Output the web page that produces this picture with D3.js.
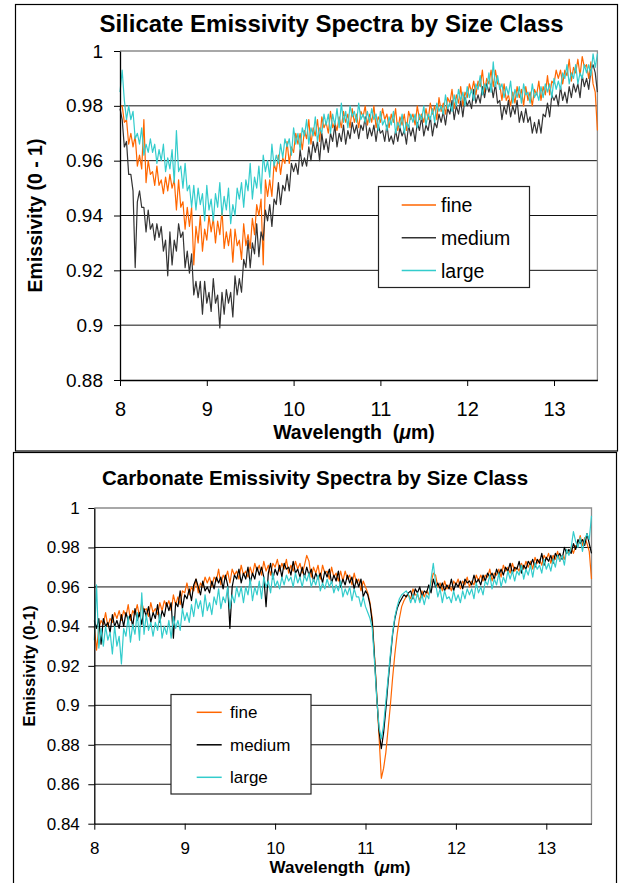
<!DOCTYPE html>
<html>
<head>
<meta charset="utf-8">
<script src="https://cdn.jsdelivr.net/npm/d3@7"></script>
<style>
body { margin: 0; background: #fff; }
svg text { font-family: "Liberation Sans", Arial, sans-serif; fill: #000; }
</style>
</head>
<body>
<svg id="chart" width="623" height="883"></svg>
<script>
"use strict";

// ---- data ----
var sizeClasses = ["fine", "medium", "large"];
var xTicks = [8, 9, 10, 11, 12, 13];
var silicateYTicks = [0.88, 0.9, 0.92, 0.94, 0.96, 0.98, 1];
var carbonateYTicks = [0.84, 0.86, 0.88, 0.9, 0.92, 0.94, 0.96, 0.98, 1];

// both spectra sampled every 0.025 um
var silicateWavelengths = [
	8, 8.025, 8.05, 8.075, 8.1, 8.125, 8.15, 8.175, 8.2, 8.225, 8.25, 8.275, 8.3, 8.325, 8.35, 8.375, 8.4, 8.425, 8.45, 8.475,
	8.5, 8.525, 8.55, 8.575, 8.6, 8.625, 8.65, 8.675, 8.7, 8.725, 8.75, 8.775, 8.8, 8.825, 8.85, 8.875, 8.9, 8.925, 8.95, 8.975,
	9, 9.025, 9.05, 9.075, 9.1, 9.125, 9.15, 9.175, 9.2, 9.225, 9.25, 9.275, 9.3, 9.325, 9.35, 9.375, 9.4, 9.425, 9.45, 9.475,
	9.5, 9.525, 9.55, 9.575, 9.6, 9.625, 9.65, 9.675, 9.7, 9.725, 9.75, 9.775, 9.8, 9.825, 9.85, 9.875, 9.9, 9.925, 9.95, 9.975,
	10, 10.025, 10.05, 10.075, 10.1, 10.125, 10.15, 10.175, 10.2, 10.225, 10.25, 10.275, 10.3, 10.325, 10.35, 10.375, 10.4, 10.425, 10.45, 10.475,
	10.5, 10.525, 10.55, 10.575, 10.6, 10.625, 10.65, 10.675, 10.7, 10.725, 10.75, 10.775, 10.8, 10.825, 10.85, 10.875, 10.9, 10.925, 10.95, 10.975,
	11, 11.025, 11.05, 11.075, 11.1, 11.125, 11.15, 11.175, 11.2, 11.225, 11.25, 11.275, 11.3, 11.325, 11.35, 11.375, 11.4, 11.425, 11.45, 11.475,
	11.5, 11.525, 11.55, 11.575, 11.6, 11.625, 11.65, 11.675, 11.7, 11.725, 11.75, 11.775, 11.8, 11.825, 11.85, 11.875, 11.9, 11.925, 11.95, 11.975,
	12, 12.025, 12.05, 12.075, 12.1, 12.125, 12.15, 12.175, 12.2, 12.225, 12.25, 12.275, 12.3, 12.325, 12.35, 12.375, 12.4, 12.425, 12.45, 12.475,
	12.5, 12.525, 12.55, 12.575, 12.6, 12.625, 12.65, 12.675, 12.7, 12.725, 12.75, 12.775, 12.8, 12.825, 12.85, 12.875, 12.9, 12.925, 12.95, 12.975,
	13, 13.025, 13.05, 13.075, 13.1, 13.125, 13.15, 13.175, 13.2, 13.225, 13.25, 13.275, 13.3, 13.325, 13.35, 13.375, 13.4, 13.425, 13.45, 13.475,
	13.5
];
var carbonateWavelengths = silicateWavelengths;

var silicateFine = [
	0.980, 0.980, 0.974, 0.975, 0.966, 0.970, 0.965, 0.969, 0.958, 0.962, 0.957, 0.975, 0.952, 0.960, 0.955, 0.956, 0.951, 0.958, 0.951, 0.953,
	0.948, 0.954, 0.949, 0.955, 0.950, 0.953, 0.942, 0.953, 0.943, 0.945, 0.935, 0.943, 0.936, 0.943, 0.922, 0.936, 0.930, 0.940, 0.927, 0.935,
	0.931, 0.940, 0.934, 0.939, 0.930, 0.938, 0.933, 0.942, 0.928, 0.934, 0.929, 0.935, 0.923, 0.935, 0.929, 0.931, 0.924, 0.937, 0.929, 0.933,
	0.928, 0.939, 0.933, 0.944, 0.940, 0.946, 0.922, 0.953, 0.947, 0.953, 0.947, 0.959, 0.956, 0.962, 0.955, 0.961, 0.959, 0.967, 0.959, 0.965,
	0.963, 0.970, 0.966, 0.970, 0.964, 0.971, 0.968, 0.975, 0.966, 0.972, 0.969, 0.975, 0.967, 0.976, 0.972, 0.974, 0.970, 0.978, 0.972, 0.974,
	0.971, 0.976, 0.972, 0.978, 0.974, 0.977, 0.972, 0.979, 0.974, 0.977, 0.972, 0.978, 0.976, 0.980, 0.973, 0.977, 0.974, 0.980, 0.972, 0.976,
	0.974, 0.979, 0.975, 0.977, 0.972, 0.977, 0.974, 0.979, 0.971, 0.976, 0.973, 0.977, 0.971, 0.978, 0.975, 0.977, 0.973, 0.980, 0.975, 0.977,
	0.974, 0.979, 0.975, 0.981, 0.977, 0.980, 0.975, 0.983, 0.978, 0.981, 0.977, 0.983, 0.981, 0.986, 0.979, 0.984, 0.981, 0.987, 0.980, 0.985,
	0.983, 0.988, 0.985, 0.989, 0.984, 0.989, 0.987, 0.993, 0.985, 0.990, 0.988, 0.993, 0.987, 0.993, 0.988, 0.988, 0.982, 0.988, 0.982, 0.984,
	0.980, 0.985, 0.981, 0.987, 0.983, 0.986, 0.980, 0.987, 0.982, 0.985, 0.980, 0.986, 0.984, 0.989, 0.982, 0.987, 0.984, 0.991, 0.984, 0.989,
	0.988, 0.993, 0.990, 0.993, 0.988, 0.993, 0.991, 0.997, 0.989, 0.994, 0.992, 0.997, 0.991, 0.998, 0.994, 0.995, 0.990, 0.996, 0.988, 0.985,
	0.971
];
var silicateMedium = [
	0.979, 0.975, 0.965, 0.967, 0.955, 0.955, 0.949, 0.921, 0.945, 0.949, 0.943, 0.943, 0.934, 0.942, 0.935, 0.937, 0.931, 0.937, 0.932, 0.936,
	0.927, 0.931, 0.918, 0.934, 0.922, 0.931, 0.927, 0.937, 0.932, 0.934, 0.921, 0.927, 0.919, 0.926, 0.911, 0.916, 0.910, 0.916, 0.904, 0.916,
	0.908, 0.912, 0.905, 0.917, 0.908, 0.911, 0.899, 0.912, 0.904, 0.913, 0.908, 0.912, 0.903, 0.918, 0.911, 0.917, 0.912, 0.924, 0.921, 0.931,
	0.921, 0.930, 0.926, 0.937, 0.925, 0.934, 0.931, 0.942, 0.938, 0.944, 0.936, 0.946, 0.944, 0.952, 0.944, 0.951, 0.949, 0.955, 0.949, 0.959,
	0.956, 0.959, 0.955, 0.964, 0.958, 0.961, 0.958, 0.965, 0.960, 0.967, 0.963, 0.967, 0.960, 0.970, 0.964, 0.968, 0.963, 0.970, 0.967, 0.973,
	0.965, 0.970, 0.967, 0.973, 0.966, 0.971, 0.968, 0.974, 0.970, 0.973, 0.968, 0.973, 0.971, 0.976, 0.968, 0.972, 0.969, 0.973, 0.967, 0.973,
	0.970, 0.971, 0.967, 0.973, 0.967, 0.969, 0.966, 0.971, 0.967, 0.972, 0.969, 0.971, 0.966, 0.973, 0.969, 0.972, 0.967, 0.974, 0.971, 0.976,
	0.969, 0.973, 0.971, 0.976, 0.969, 0.974, 0.972, 0.977, 0.974, 0.978, 0.973, 0.979, 0.977, 0.982, 0.975, 0.980, 0.977, 0.982, 0.976, 0.983,
	0.980, 0.982, 0.979, 0.986, 0.981, 0.984, 0.981, 0.987, 0.983, 0.988, 0.985, 0.988, 0.983, 0.988, 0.981, 0.982, 0.975, 0.980, 0.977, 0.982,
	0.976, 0.980, 0.977, 0.982, 0.974, 0.978, 0.974, 0.979, 0.974, 0.976, 0.970, 0.974, 0.970, 0.975, 0.970, 0.977, 0.976, 0.981, 0.976, 0.984,
	0.982, 0.984, 0.980, 0.987, 0.982, 0.985, 0.981, 0.987, 0.983, 0.988, 0.985, 0.988, 0.983, 0.991, 0.987, 0.990, 0.986, 0.993, 0.995, 0.992,
	0.985
];
var silicateLarge = [
	0.985, 0.993, 0.982, 0.975, 0.980, 0.975, 0.978, 0.968, 0.970, 0.966, 0.972, 0.962, 0.966, 0.963, 0.968, 0.963, 0.966, 0.959, 0.964, 0.960,
	0.966, 0.956, 0.961, 0.957, 0.964, 0.952, 0.971, 0.956, 0.958, 0.950, 0.959, 0.949, 0.951, 0.943, 0.951, 0.942, 0.950, 0.944, 0.948, 0.938,
	0.951, 0.942, 0.946, 0.938, 0.948, 0.943, 0.952, 0.940, 0.947, 0.942, 0.950, 0.937, 0.944, 0.940, 0.950, 0.946, 0.952, 0.943, 0.953, 0.949,
	0.959, 0.946, 0.954, 0.950, 0.958, 0.948, 0.962, 0.956, 0.960, 0.954, 0.966, 0.958, 0.962, 0.959, 0.966, 0.961, 0.968, 0.965, 0.968, 0.962,
	0.972, 0.966, 0.970, 0.964, 0.972, 0.969, 0.975, 0.966, 0.972, 0.969, 0.976, 0.967, 0.972, 0.970, 0.977, 0.973, 0.977, 0.970, 0.977, 0.973,
	0.979, 0.972, 0.981, 0.974, 0.978, 0.972, 0.980, 0.976, 0.978, 0.974, 0.981, 0.975, 0.977, 0.974, 0.978, 0.974, 0.979, 0.975, 0.977, 0.971,
	0.978, 0.973, 0.975, 0.971, 0.976, 0.973, 0.978, 0.970, 0.974, 0.972, 0.977, 0.970, 0.974, 0.972, 0.977, 0.974, 0.977, 0.972, 0.977, 0.975,
	0.980, 0.973, 0.977, 0.975, 0.979, 0.974, 0.981, 0.978, 0.980, 0.977, 0.984, 0.979, 0.981, 0.978, 0.984, 0.980, 0.986, 0.982, 0.985, 0.980,
	0.987, 0.983, 0.986, 0.982, 0.988, 0.986, 0.991, 0.984, 0.988, 0.986, 0.992, 0.985, 0.996, 0.987, 0.991, 0.986, 0.988, 0.983, 0.987, 0.984,
	0.989, 0.981, 0.986, 0.983, 0.987, 0.981, 0.988, 0.984, 0.985, 0.981, 0.988, 0.983, 0.985, 0.982, 0.987, 0.983, 0.988, 0.985, 0.988, 0.983,
	0.990, 0.986, 0.989, 0.986, 0.992, 0.990, 0.995, 0.988, 0.992, 0.990, 0.995, 0.988, 0.992, 0.990, 0.995, 0.992, 0.995, 0.991, 0.999, 0.994,
	0.999
];

var carbonateFine = [
	0.940, 0.928, 0.939, 0.943, 0.941, 0.947, 0.940, 0.944, 0.942, 0.947, 0.944, 0.948, 0.943, 0.948, 0.945, 0.951, 0.943, 0.948, 0.946, 0.951,
	0.945, 0.952, 0.948, 0.949, 0.945, 0.952, 0.947, 0.949, 0.946, 0.952, 0.948, 0.953, 0.950, 0.953, 0.948, 0.956, 0.951, 0.955, 0.951, 0.958,
	0.957, 0.962, 0.956, 0.960, 0.958, 0.964, 0.957, 0.962, 0.960, 0.965, 0.962, 0.965, 0.960, 0.965, 0.963, 0.969, 0.961, 0.966, 0.964, 0.968,
	0.962, 0.969, 0.966, 0.968, 0.964, 0.971, 0.966, 0.968, 0.965, 0.970, 0.966, 0.972, 0.968, 0.971, 0.966, 0.973, 0.968, 0.971, 0.966, 0.972,
	0.970, 0.974, 0.968, 0.972, 0.969, 0.974, 0.967, 0.971, 0.968, 0.973, 0.969, 0.972, 0.967, 0.971, 0.976, 0.973, 0.965, 0.970, 0.967, 0.971,
	0.964, 0.971, 0.967, 0.968, 0.964, 0.970, 0.965, 0.967, 0.963, 0.968, 0.963, 0.968, 0.964, 0.966, 0.961, 0.967, 0.962, 0.964, 0.958, 0.963,
	0.960, 0.957, 0.952, 0.944, 0.925, 0.905, 0.884, 0.863, 0.868, 0.876, 0.888, 0.900, 0.914, 0.926, 0.936, 0.944, 0.950, 0.953, 0.955, 0.956,
	0.954, 0.959, 0.956, 0.956, 0.953, 0.958, 0.955, 0.958, 0.956, 0.962, 0.967, 0.966, 0.960, 0.962, 0.958, 0.963, 0.959, 0.961, 0.958, 0.963,
	0.961, 0.964, 0.959, 0.963, 0.961, 0.965, 0.960, 0.963, 0.961, 0.966, 0.963, 0.966, 0.963, 0.966, 0.965, 0.969, 0.963, 0.967, 0.966, 0.969,
	0.965, 0.971, 0.968, 0.970, 0.967, 0.972, 0.968, 0.970, 0.968, 0.972, 0.969, 0.973, 0.970, 0.973, 0.969, 0.975, 0.972, 0.974, 0.971, 0.976,
	0.974, 0.977, 0.972, 0.976, 0.974, 0.978, 0.973, 0.976, 0.974, 0.979, 0.977, 0.980, 0.977, 0.981, 0.981, 0.986, 0.981, 0.985, 0.982, 0.978,
	0.964
];
var carbonateMedium = [
	0.943, 0.939, 0.944, 0.931, 0.944, 0.940, 0.942, 0.937, 0.946, 0.940, 0.943, 0.939, 0.946, 0.940, 0.947, 0.943, 0.946, 0.940, 0.949, 0.943,
	0.947, 0.941, 0.949, 0.945, 0.950, 0.942, 0.947, 0.944, 0.951, 0.942, 0.948, 0.945, 0.952, 0.948, 0.952, 0.934, 0.952, 0.950, 0.958, 0.949,
	0.956, 0.954, 0.959, 0.953, 0.961, 0.964, 0.960, 0.956, 0.963, 0.958, 0.960, 0.957, 0.963, 0.959, 0.965, 0.962, 0.965, 0.959, 0.966, 0.961,
	0.939, 0.960, 0.966, 0.964, 0.969, 0.962, 0.967, 0.964, 0.970, 0.962, 0.967, 0.964, 0.970, 0.966, 0.970, 0.965, 0.950, 0.967, 0.972, 0.964,
	0.969, 0.966, 0.971, 0.965, 0.972, 0.969, 0.970, 0.966, 0.973, 0.967, 0.969, 0.965, 0.970, 0.965, 0.970, 0.966, 0.969, 0.963, 0.967, 0.964,
	0.967, 0.962, 0.968, 0.965, 0.969, 0.962, 0.966, 0.963, 0.968, 0.960, 0.964, 0.961, 0.966, 0.962, 0.965, 0.959, 0.964, 0.960, 0.964, 0.955,
	0.958, 0.956, 0.951, 0.942, 0.924, 0.904, 0.887, 0.878, 0.886, 0.898, 0.912, 0.924, 0.936, 0.944, 0.949, 0.952, 0.954, 0.956, 0.955, 0.957,
	0.958, 0.954, 0.959, 0.957, 0.960, 0.955, 0.958, 0.957, 0.961, 0.957, 0.964, 0.960, 0.962, 0.959, 0.962, 0.958, 0.961, 0.959, 0.964, 0.958,
	0.962, 0.960, 0.963, 0.959, 0.964, 0.962, 0.963, 0.961, 0.966, 0.962, 0.964, 0.961, 0.966, 0.963, 0.967, 0.965, 0.967, 0.964, 0.969, 0.966,
	0.969, 0.966, 0.970, 0.968, 0.972, 0.967, 0.970, 0.969, 0.973, 0.967, 0.971, 0.969, 0.973, 0.971, 0.974, 0.970, 0.974, 0.972, 0.977, 0.971,
	0.975, 0.973, 0.976, 0.972, 0.977, 0.975, 0.977, 0.974, 0.980, 0.977, 0.979, 0.977, 0.982, 0.979, 0.984, 0.982, 0.984, 0.981, 0.987, 0.982,
	0.977
];
var carbonateLarge = [
	0.933, 0.961, 0.929, 0.939, 0.930, 0.940, 0.933, 0.937, 0.926, 0.940, 0.930, 0.935, 0.921, 0.939, 0.935, 0.945, 0.932, 0.941, 0.936, 0.947,
	0.933, 0.957, 0.936, 0.946, 0.938, 0.942, 0.935, 0.942, 0.938, 0.946, 0.934, 0.940, 0.936, 0.943, 0.934, 0.945, 0.939, 0.943, 0.938, 0.949,
	0.943, 0.947, 0.942, 0.951, 0.945, 0.954, 0.949, 0.953, 0.945, 0.956, 0.948, 0.952, 0.946, 0.955, 0.951, 0.959, 0.949, 0.955, 0.952, 0.960,
	0.949, 0.956, 0.952, 0.960, 0.955, 0.960, 0.952, 0.960, 0.956, 0.964, 0.953, 0.960, 0.956, 0.963, 0.954, 0.965, 0.960, 0.963, 0.957, 0.967,
	0.960, 0.963, 0.959, 0.965, 0.961, 0.966, 0.963, 0.965, 0.960, 0.967, 0.962, 0.965, 0.960, 0.966, 0.963, 0.967, 0.960, 0.964, 0.961, 0.966,
	0.958, 0.962, 0.959, 0.964, 0.960, 0.963, 0.957, 0.961, 0.958, 0.963, 0.955, 0.959, 0.956, 0.960, 0.953, 0.959, 0.955, 0.955, 0.950, 0.955,
	0.950, 0.947, 0.944, 0.939, 0.922, 0.903, 0.889, 0.883, 0.890, 0.902, 0.914, 0.926, 0.937, 0.945, 0.950, 0.954, 0.956, 0.957, 0.958, 0.956,
	0.952, 0.956, 0.952, 0.957, 0.952, 0.956, 0.951, 0.956, 0.954, 0.964, 0.972, 0.962, 0.955, 0.959, 0.952, 0.958, 0.954, 0.955, 0.952, 0.958,
	0.953, 0.956, 0.952, 0.958, 0.954, 0.959, 0.956, 0.959, 0.954, 0.962, 0.957, 0.960, 0.956, 0.963, 0.961, 0.966, 0.959, 0.964, 0.961, 0.967,
	0.960, 0.965, 0.962, 0.968, 0.964, 0.968, 0.963, 0.968, 0.966, 0.971, 0.964, 0.969, 0.966, 0.971, 0.965, 0.972, 0.969, 0.971, 0.967, 0.974,
	0.969, 0.972, 0.968, 0.974, 0.970, 0.976, 0.973, 0.976, 0.971, 0.979, 0.976, 0.980, 0.988, 0.983, 0.980, 0.985, 0.978, 0.984, 0.987, 0.984,
	0.996
];

var svg = d3.select("#chart");

function drawPanel(c) {
	var g = svg.append("g");

	// outer chart frame
	g.append("rect")
	 .attr("x", c.frame[0]).attr("y", c.frame[1])
	 .attr("width", c.frame[2]).attr("height", c.frame[3])
	 .attr("fill", "#fff").attr("stroke", "#000").attr("stroke-width", 1.2);

	var x = d3.scaleLinear().domain([8, 13.5]).range([c.left, c.right]);
	var y = d3.scaleLinear()
	          .domain([c.yTicks[0], c.yTicks[c.yTicks.length - 1]])
	          .range([c.bottom, c.top]);

	// horizontal gridlines
	g.append("g").selectAll("line")
	 .data(c.yTicks.slice(1, -1))
	 .enter().append("line")
	 .attr("x1", x(8)).attr("x2", x(13.5))
	 .attr("y1", d=>y(d)).attr("y2", d=>y(d))
	 .attr("stroke", "#111").attr("stroke-width", 1);

	// grey plot area border (top and right)
	g.append("path")
	 .attr("d", "M" + x(8) + "," + y(1) + "H" + x(13.5) + "V" + y(c.yTicks[0]))
	 .attr("fill", "none").attr("stroke", "#8c8c8c").attr("stroke-width", 1.3);

	// spectra
	var line = d3.line()
	             .x((d, i)=>x(c.wl[i]))
	             .y(d=>y(d));
	g.append("g").selectAll("path")
	 .data(c.series)
	 .enter().append("path")
	 .attr("d", d=>line(d.values))
	 .attr("fill", "none")
	 .attr("stroke", d=>d.color)
	 .attr("stroke-width", c.lineWidth)
	 .attr("stroke-linejoin", "round");

	// axes
	var yAxis = d3.axisLeft(y).tickValues(c.yTicks).tickSize(6).tickSizeOuter(0)
	              .tickPadding(c.yPad).tickFormat(d=>String(d));
	var ya = g.append("g").attr("transform", "translate(" + x(8) + ",0)").call(yAxis);
	var xAxis = d3.axisBottom(x).tickValues(xTicks).tickSize(6).tickSizeOuter(0)
	              .tickPadding(c.xPad).tickFormat(d=>String(d));
	var xa = g.append("g").attr("transform", "translate(0," + y(c.yTicks[0]) + ")").call(xAxis);
	ya.select(".domain").attr("stroke", "#000").attr("stroke-width", 1.3);
	xa.select(".domain").attr("stroke", "#000").attr("stroke-width", 1.3);
	ya.selectAll("text").attr("font-size", c.yTickSize).attr("font-family", null);
	xa.selectAll("text").attr("font-size", c.xTickSize).attr("font-family", null);

	// titles
	g.append("text")
	 .attr("x", c.titleX).attr("y", c.titleY)
	 .attr("text-anchor", "middle").attr("font-weight", "bold")
	 .attr("font-size", c.titleSize)
	 .text(c.title);

	g.append("text")
	 .attr("transform", "translate(" + c.yLabelX + "," + c.yLabelY + ") rotate(-90)")
	 .attr("text-anchor", "middle").attr("font-weight", "bold")
	 .attr("font-size", c.yLabelSize)
	 .text(c.yLabel);

	var xl = g.append("text")
	          .attr("x", c.xLabelX).attr("y", c.xLabelY)
	          .attr("text-anchor", "middle").attr("font-weight", "bold")
	          .attr("font-size", c.xLabelSize)
	          .style("white-space", "pre");
	xl.append("tspan").text("Wavelength  (");
	xl.append("tspan").attr("font-style", "italic").text("\u03bc");
	xl.append("tspan").text("m)");

	// legend
	var L = c.legend;
	var lg = g.append("g");
	lg.append("rect")
	  .attr("x", L.x).attr("y", L.y).attr("width", L.w).attr("height", L.h)
	  .attr("fill", "#fff").attr("stroke", "#222").attr("stroke-width", 1.2);
	var rows = lg.selectAll("g.row")
	             .data(c.series)
	             .enter().append("g").attr("class", "row")
	             .attr("transform", (d, i)=>"translate(0," + (L.row0 + i * L.gap) + ")");
	rows.append("line")
	    .attr("x1", L.lx0).attr("x2", L.lx1).attr("y1", 0).attr("y2", 0)
	    .attr("stroke", d=>d.color).attr("stroke-width", 1.5);
	rows.append("text")
	    .attr("x", L.tx).attr("y", L.dy)
	    .attr("font-size", L.size)
	    .text(d=>d.name);
}

drawPanel({
	frame: [15.5, 4.5, 602, 446.5],
	left: 120, right: 597.4, top: 51, bottom: 380,
	yTicks: silicateYTicks, yPad: 11, xPad: 16, yTickSize: 19, xTickSize: 20,
	wl: silicateWavelengths, lineWidth: 1.2,
	series: [
		{name: sizeClasses[0], color: "#ff6600", values: silicateFine},
		{name: sizeClasses[1], color: "#333333", values: silicateMedium},
		{name: sizeClasses[2], color: "#33cccc", values: silicateLarge}
	],
	title: "Silicate Emissivity Spectra by Size Class",
	titleX: 331.5, titleY: 32, titleSize: 24,
	yLabel: "Emissivity (0 - 1)", yLabelX: 42, yLabelY: 215.5, yLabelSize: 19.5,
	xLabelX: 354, xLabelY: 439, xLabelSize: 19.5,
	legend: {x: 378.5, y: 186.5, w: 151, h: 101, row0: 205, gap: 32.8,
	         lx0: 401.7, lx1: 436, tx: 441, dy: 7, size: 19.5}
});

drawPanel({
	frame: [13.5, 452.5, 603, 440],
	left: 94.3, right: 591.5, top: 508, bottom: 823.7,
	yTicks: carbonateYTicks, yPad: 8.5, xPad: 12.5, yTickSize: 17, xTickSize: 17,
	wl: carbonateWavelengths, lineWidth: 1.2,
	series: [
		{name: sizeClasses[0], color: "#ff6600", values: carbonateFine},
		{name: sizeClasses[1], color: "#000000", values: carbonateMedium},
		{name: sizeClasses[2], color: "#33cccc", values: carbonateLarge}
	],
	title: "Carbonate Emissivity Spectra by Size Class",
	titleX: 315, titleY: 485, titleSize: 20.5,
	yLabel: "Emissivity (0-1)", yLabelX: 35, yLabelY: 666, yLabelSize: 16.5,
	xLabelX: 340, xLabelY: 873, xLabelSize: 17,
	legend: {x: 171, y: 694.5, w: 140, h: 99.5, row0: 712.3, gap: 32.5,
	         lx0: 196.7, lx1: 221.7, tx: 230, dy: 6, size: 17}
});
</script>
</body>
</html>
